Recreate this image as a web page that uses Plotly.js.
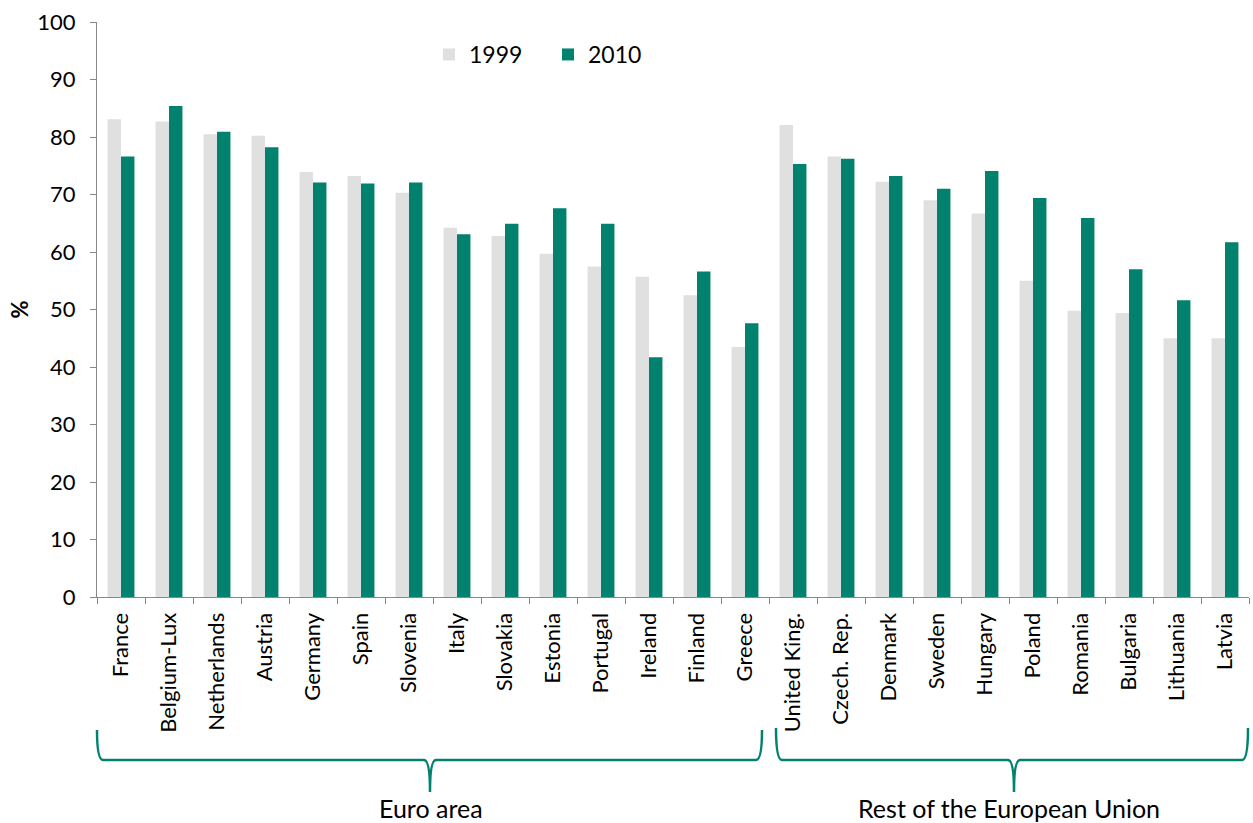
<!DOCTYPE html>
<html>
<head>
<meta charset="utf-8">
<script src="https://cdn.plot.ly/plotly-3.0.1.min.js"></script>
<style>html,body{margin:0;padding:0;background:#fff;}#chart{width:1253px;height:823px;}</style>
</head>
<body>
<div id="chart"></div>
<script>
const countries = ["France","Belgium-Lux","Netherlands","Austria","Germany","Spain","Slovenia","Italy","Slovakia","Estonia","Portugal","Ireland","Finland","Greece",
  "United King.","Czech. Rep.","Denmark","Sweden","Hungary","Poland","Romania","Bulgaria","Lithuania","Latvia"];
const values1999 = [83.1,82.7,80.5,80.2,73.9,73.2,70.3,64.2,62.8,59.7,57.5,55.7,52.5,43.5,
  82.1,76.6,72.2,69.0,66.7,55.0,49.8,49.4,45.0,45.0];
const values2010 = [76.6,85.4,80.9,78.2,72.1,71.9,72.1,63.1,64.9,67.6,64.9,41.7,56.6,47.6,
  75.3,76.2,73.2,71.0,74.1,69.4,65.9,57.0,51.6,61.7];
const seriesNames = ["1999","2010"];
const groupLabels = ["Euro area","Rest of the European Union"];

const FONT = "Lato, 'Open Sans', sans-serif";
const TEAL = "#00826F";
// plot area in pixels
const L = 97, R = 1249, T = 22, B = 597;
const px = x => (x - L) / (R - L);
const py = y => (B - y) / (B - T);

function brace(x0, x1, xm, yTop, yLine, yTip) {
  const c = 6;
  return "M " + px(x0) + "," + py(yTop) +
    " Q " + px(x0) + "," + py(yLine) + " " + px(x0 + c) + "," + py(yLine) +
    " L " + px(xm - c) + "," + py(yLine) +
    " Q " + px(xm) + "," + py(yLine) + " " + px(xm) + "," + py(yTip) +
    " Q " + px(xm) + "," + py(yLine) + " " + px(xm + c) + "," + py(yLine) +
    " L " + px(x1 - c) + "," + py(yLine) +
    " Q " + px(x1) + "," + py(yLine) + " " + px(x1) + "," + py(yTop);
}

const data = [
  {type:"bar", name:seriesNames[0], x:countries, y:values1999, marker:{color:"#E0E0E0"}},
  {type:"bar", name:seriesNames[1], x:countries, y:values2010, marker:{color:TEAL}}
];

const layout = {
  width:1253, height:823,
  margin:{l:L, r:1253-R, t:T, b:823-B},
  paper_bgcolor:"#fff", plot_bgcolor:"#fff",
  font:{family:FONT, color:"#000", size:18},
  barmode:"group", bargap:0.44, bargroupgap:0,
  showlegend:true,
  legend:{orientation:"h", x:px(429), y:py(33), xanchor:"left", yanchor:"top",
    font:{size:23, family:FONT}, bgcolor:"rgba(0,0,0,0)", itemwidth:30, entrywidth:74},
  xaxis:{type:"category", tickangle:-90, tickson:"boundaries", ticks:"outside", ticklen:6,
    tickcolor:"#888", showline:true, linecolor:"#888", linewidth:1, showgrid:false,
    ticklabelstandoff:6,
    tickfont:{size:22, family:FONT}, automargin:false, fixedrange:true},
  yaxis:{range:[0,100], dtick:10, ticks:"outside", ticklen:6, tickcolor:"#888",
    showline:true, linecolor:"#888", linewidth:1, showgrid:false, zeroline:false,
    ticklabelstandoff:10,
    tickfont:{size:22, family:FONT}, automargin:false,
    title:{text:"<b>%</b>", font:{size:22, family:FONT}, standoff:2}},
  shapes:[
    {type:"path", xref:"paper", yref:"paper", path:brace(97, 762, 430, 730, 760, 792), line:{color:TEAL, width:2.5}},
    {type:"path", xref:"paper", yref:"paper", path:brace(776, 1248, 1014, 728, 760, 792), line:{color:TEAL, width:2.5}}
  ],
  annotations:[
    {xref:"paper", yref:"paper", x:px(431), y:py(808), text:groupLabels[0], showarrow:false,
      xanchor:"center", yanchor:"middle", font:{size:25, family:FONT}},
    {xref:"paper", yref:"paper", x:px(1009), y:py(808), text:groupLabels[1], showarrow:false,
      xanchor:"center", yanchor:"middle", font:{size:25, family:FONT}}
  ]
};

Plotly.newPlot("chart", data, layout, {displayModeBar:false, staticPlot:true});
</script>
</body>
</html>
